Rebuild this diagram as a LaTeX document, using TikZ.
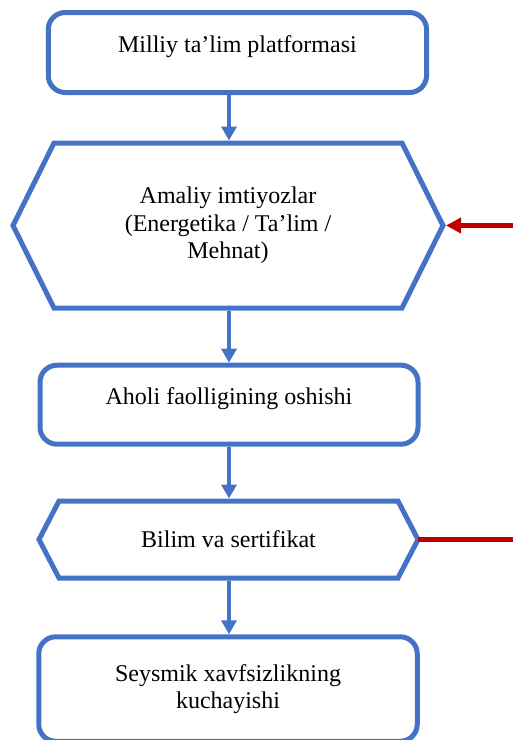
\documentclass[tikz,border=0pt]{standalone}
\usepackage{fontspec}
\setmainfont{Liberation Serif}
\usetikzlibrary{positioning,arrows.meta}
\definecolor{boxblue}{HTML}{4472C4}
\definecolor{feedred}{HTML}{C00000}
\tikzset{
  label font/.style={font=\fontsize{24}{27.5}\selectfont},
  card/.style={draw=boxblue,line width=5pt,rounded corners=17pt,label font,align=center},
  hexbox/.style={outer sep=0pt,label font,align=center},
  hexline/.style={draw=boxblue,line width=5pt},
  flow/.style={draw=boxblue,line width=3.5pt,-{Triangle[length=14pt,width=15pt]}},
  feed/.style={draw=feedred,line width=4.5pt}
}

\begin{document}
\begin{tikzpicture}[x=1pt,y=-1pt]
  \useasboundingbox (0,0) rectangle (513,740);
  \coordinate (axis) at (229,0);
  \coordinate (rim) at (513,0);

  \node[card,minimum width=378.3pt,minimum height=80pt,text height=16pt,text depth=16pt] (plat) at (237.4,52.5) {Milliy ta’lim platformasi};
  \node[hexbox,minimum width=430pt,minimum height=165pt] (perk) [below=48pt of plat,xshift=-9.4pt] {Amaliy imtiyozlar\\(Energetika / Ta’lim /\\Mehnat)};
  \node[card,minimum width=378pt,minimum height=79pt,text height=16pt,text depth=16pt] (act) [below=54.7pt of perk,xshift=1pt] {Aholi faolligining oshishi};
  \node[hexbox,minimum width=379pt,minimum height=77pt] (cert) [below=54.3pt of act,xshift=-0.5pt] {Bilim va sertifikat};
  \node[card,minimum width=378.5pt,minimum height=104.5pt] (safe) [below=56.3pt of cert,xshift=-0.5pt] {Seysmik xavfsizlikning\\kuchayishi};

  % hexagon outlines
  \draw[hexline] (perk.west) -- ([xshift=41pt]perk.north west) -- ([xshift=-41pt]perk.north east)
    -- (perk.east) -- ([xshift=-41pt]perk.south east) -- ([xshift=41pt]perk.south west) -- cycle;
  \draw[hexline] (cert.west) -- ([xshift=20pt]cert.north west) -- ([xshift=-20pt]cert.north east)
    -- (cert.east) -- ([xshift=-20pt]cert.south east) -- ([xshift=20pt]cert.south west) -- cycle;

  \path
  (plat.south -| axis) edge [flow,shorten >=2.5pt] (perk.north -| axis)
  (perk.south -| axis) edge [flow,shorten <=2.5pt] (act.north -| axis)
  (act.south -| axis) edge [flow,shorten >=2.5pt] (cert.north -| axis)
  (cert.south -| axis) edge [flow,shorten <=2.5pt] (safe.north -| axis)

  (perk.east -| rim) edge [feed,-{Triangle[length=15pt,width=15pt]},shorten >=3pt] (perk.east)
  (cert.east) edge [feed] (cert.east -| rim)
  ;
\end{tikzpicture}
\end{document}
